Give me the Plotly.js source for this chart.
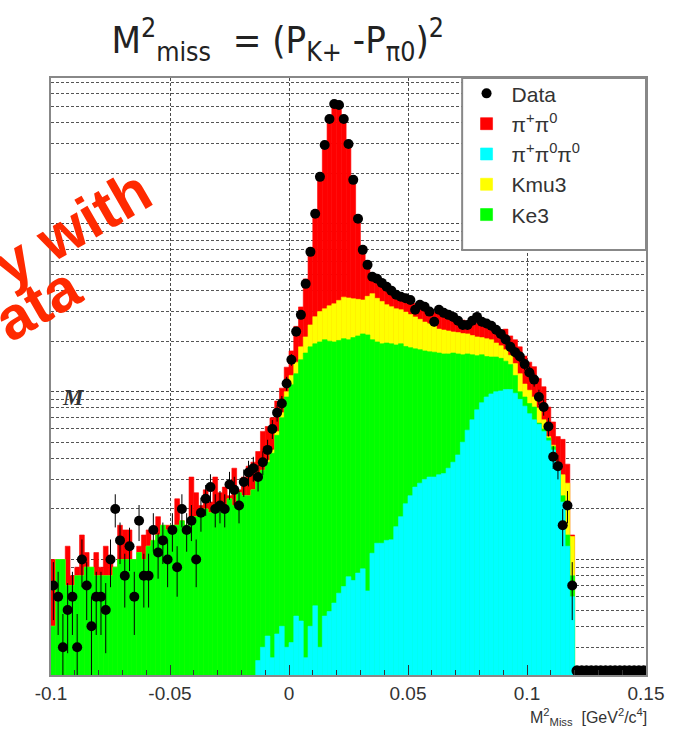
<!DOCTYPE html>
<html>
<head>
<meta charset="utf-8">
<script src="https://cdn.plot.ly/plotly-3.0.1.min.js"></script>
<style>
html,body{margin:0;padding:0;background:#ffffff;}
#chart{width:689px;height:729px;}
</style>
</head>
<body>
<div id="chart"></div>
<script>
// ---------- histogram binning ----------
const binLow = -0.1;
const binWidth = 0.002;

// ---------- data (counts per bin) ----------
const dataCounts = [
  7, 6, 3, 5, 6, 3, 10, 7, 4, 6,
  6, 5, 10, 20, 13, 8, 12, 6, 17, 8,
  8, 15, 11, 13, 10, 15, 9, 20, 15, 17,
  10, 19, 23, 27, 20, 21, 20, 28, 26, 21,
  29, 33, 35, 31, 38, 45, 60, 75, 85, 112,
  155, 228, 287, 439, 681, 1148, 1906, 2953, 4217, 5179,
  5108, 4217, 2990, 1829, 1072, 700, 570, 484, 471, 445,
  422, 400, 378, 368, 360, 352, 308, 330, 321, 300,
  261, 308, 295, 287, 279, 265, 250, 250, 265, 279,
  261, 255, 247, 234, 221, 205, 185, 172, 162, 146,
  130, 118, 93, 81, 62, 41, 36, 16, 21, 7,
  0, 0, 0, 0, 0, 0, 0, 0, 0, 0, 0, 0, 0, 0, 0
];

// ---------- MC stack levels (top of each stacked component) ----------
// pi+ pi0 (top of full stack)
const stackPiPi0 = [
  10, 9, 7, 12, 8, 9, 14, 11, 8, 11,
  9, 12, 10, 9, 16, 15, 15, 10, 12, 14,
  15, 12, 18, 14, 16, 13, 23, 17, 16, 31,
  25, 21, 26, 22, 31, 25, 27, 24, 35, 26,
  31, 36, 38, 44, 58, 62, 70, 88, 105, 140,
  175, 245, 320, 470, 720, 1180, 1950, 3000, 4300, 5200,
  5050, 4150, 2900, 1850, 1080, 690, 560, 475, 455, 432,
  412, 395, 380, 366, 356, 346, 336, 327, 318, 308,
  298, 292, 287, 282, 277, 272, 267, 263, 259, 256,
  252, 248, 244, 238, 233, 236, 215, 204, 185, 163,
  150, 141, 120, 107, 81, 66, 54, 52, 37, 14
];
// Kmu3 level
const stackKmu3 = [
  4, 10, 10, 7, 7, 8, 8, 9, 9, 8,
  8, 8, 8, 9, 10, 10, 10, 10, 11, 10,
  12, 13, 14, 16, 15, 16, 16, 17, 16, 17,
  18, 18, 20, 19, 21, 22, 21, 23, 21, 25,
  24, 24, 26, 30, 34, 39, 45, 58, 75, 100,
  125, 150, 185, 212, 250, 280, 300, 312, 325, 334,
  350, 366, 362, 358, 355, 352, 370, 384, 360, 345,
  330, 321, 312, 308, 298, 288, 279, 270, 260, 254,
  245, 236, 233, 230, 227, 225, 222, 221, 216, 212,
  210, 207, 204, 195, 188, 178, 165, 147, 128, 111,
  102, 93, 80, 68, 54, 48, 37, 32, 28.5, 13.7
];
// Ke3 level
const stackKe3 = [
  4, 10, 10, 7, 7, 8, 8, 9, 9, 8,
  8, 8, 8, 9, 10, 10, 10, 10, 11, 10,
  12, 13, 14, 16, 15, 16, 16, 17, 16, 17,
  18, 18, 20, 19, 21, 22, 21, 23, 21, 25,
  24, 24, 26, 30, 34, 38, 43, 55, 70, 93,
  110, 128, 155, 170, 185, 193, 198, 204, 200, 198,
  202, 207, 204, 210, 215, 221, 218, 204, 198, 193,
  195, 193, 190, 193, 186, 183, 180, 178, 175, 173,
  172, 170, 168, 168, 170, 168, 166, 168, 166, 164,
  166, 162, 161, 161, 158, 152, 145, 125, 100, 93,
  85, 81, 65, 60, 53, 47, 36, 24, 14, 8
];
// pi+ pi0 pi0 level (bottom component)
const stackPi3 = [
  0, 0, 0, 0, 0, 0, 0, 0, 0, 0,
  0, 0, 0, 0, 0, 0, 0, 0, 0, 0,
  0, 0, 0, 0, 0, 0, 0, 0, 0, 0,
  0, 0, 0, 0, 0, 0, 0, 0, 0, 0,
  0, 0, 0, 2.5, 3.0, 3.5, 2.6, 3.6, 4.0, 3.0,
  3.2, 4.6, 4.3, 2.6, 4.0, 5.3, 3.0, 4.6, 4.9, 5.5,
  6.3, 6.9, 7.9, 7.5, 8.3, 8.8, 6.5, 10.9, 12.5, 12.5,
  13.0, 13.1, 15.7, 18, 21.5, 24, 27, 28.5, 30, 31,
  31, 32, 32.5, 35, 38, 42, 50, 59, 68, 78,
  86, 93, 97, 100, 101, 103, 103, 98, 90, 82,
  74, 68, 64, 58, 51, 45, 34, 22, 12, 6
];

// ---------- axes ----------
const xTickVals = [-0.1, -0.05, 0, 0.05, 0.1, 0.15];
const xTickText = ['-0.1', '-0.05', '0', '0.05', '0.1', '0.15'];
const xRange = [-0.1, 0.15];
const yAxisMin = 2.05, yAxisMax = 7400;
const emptyBinLevel = 2.17;   // where empty data bins are drawn (on the floor)

// ---------- build ----------
const centers = n => Array.from({length: n}, (_, i) => +(binLow + binWidth * (i + 0.5)).toFixed(4));
const xMC = centers(stackPiPi0.length);
const xData = centers(dataCounts.length);
const filledX = [], filledY = [], emptyX = [], emptyY = [];
dataCounts.forEach((v, i) => {
  if (v > 0) { filledX.push(xData[i]); filledY.push(v); }
  else { emptyX.push(xData[i]); emptyY.push(emptyBinLevel); }
});

function histo(name, y, color, rank) {
  return {
    type: 'bar', name: name, x: xMC, y: y, width: binWidth,
    marker: {color: color, line: {color: color, width: 0.6}},
    legendrank: rank, hoverinfo: 'skip'
  };
}

const traces = [
  histo('π<sup>+</sup>π<sup>0</sup>', stackPiPi0, '#ff0000', 2),
  histo('Kmu3', stackKmu3, '#ffff00', 4),
  histo('Ke3', stackKe3, '#00ff00', 5),
  histo('π<sup>+</sup>π<sup>0</sup>π<sup>0</sup>', stackPi3, '#00ffff', 3),
  {
    type: 'scatter', mode: 'markers', name: 'Data', x: filledX, y: filledY,
    marker: {color: '#000', size: 10},
    error_y: {type: 'sqrt', color: '#000', thickness: 1, width: 0},
    legendrank: 1, hoverinfo: 'skip'
  },
  {
    type: 'scatter', mode: 'markers', name: 'Data (empty bins)', x: emptyX, y: emptyY,
    marker: {color: '#000', size: 11}, showlegend: false, hoverinfo: 'skip'
  }
];

const gridStyle = {gridcolor: '#4a4a4a', griddash: '3px,2px', gridwidth: 1};

const layout = {
  width: 689, height: 729,
  margin: {l: 51, r: 43, t: 78, b: 54},
  paper_bgcolor: '#ffffff', plot_bgcolor: '#ffffff',
  barmode: 'overlay', bargap: 0,
  font: {family: 'Liberation Sans, Arial, sans-serif', color: '#333'},
  showlegend: true,
  title: {
    text: 'M<sup>2</sup><sub>miss</sub>  = (P<sub>K+</sub> -P<sub>π0</sub>)<sup>2</sup>',
    x: 0.403, xanchor: 'center', y: 0.946, yanchor: 'middle',
    font: {size: 38, family: 'DejaVu Sans Condensed, DejaVu Sans, sans-serif', color: '#222'}
  },
  xaxis: Object.assign({
    range: xRange, tickvals: xTickVals, ticktext: xTickText,
    ticks: 'inside', ticklen: 10, tickcolor: '#333', tickwidth: 1,
    tickfont: {size: 19, color: '#333'},
    showgrid: true, showline: true, mirror: true, linecolor: '#888', linewidth: 2,
    zeroline: false,
    minor: {dtick: 0.01, ticks: 'inside', ticklen: 5, tickcolor: '#333', showgrid: false}
  }, gridStyle),
  yaxis: Object.assign({
    type: 'log', range: [Math.log10(yAxisMin), Math.log10(yAxisMax)], dtick: 1,
    showticklabels: false, ticks: '',
    showgrid: true, showline: true, mirror: true, linecolor: '#888', linewidth: 2,
    zeroline: false,
    minor: {dtick: 'D1', showgrid: true, gridcolor: '#555', griddash: '3px,2px', gridwidth: 1, ticks: ''}
  }, gridStyle),
  legend: {
    x: 0.69, y: 1.008, xanchor: 'left', yanchor: 'top',
    bgcolor: 'rgba(0,0,0,0)', borderwidth: 0,
    font: {size: 21, color: '#333'}, itemwidth: 40, traceorder: 'normal'
  },
  shapes: [{
    type: 'rect', xref: 'paper', yref: 'paper', x0: 0.691, x1: 1, y0: 0.712, y1: 1,
    fillcolor: '#ffffff', line: {color: '#888', width: 2}, layer: 'above'
  }],
  annotations: [
    {text: 'M<sup>2</sup><sub>Miss</sub>  [GeV<sup>2</sup>/c<sup>4</sup>]', xref: 'paper', yref: 'paper',
     x: 1.005, xanchor: 'right', y: -0.07, yanchor: 'middle', showarrow: false,
     font: {size: 16, color: '#333'}},
    {text: 'y with', xref: 'paper', yref: 'paper', x: 0.036, y: 0.75, xanchor: 'center', yanchor: 'middle',
     textangle: -30, showarrow: false,
     font: {size: 60, color: '#ff2a00', family: 'Liberation Sans, Arial, sans-serif', weight: 'bold'}},
    {text: 'ata', xref: 'paper', yref: 'paper', x: -0.022, y: 0.622, xanchor: 'center', yanchor: 'middle',
     textangle: -30, showarrow: false,
     font: {size: 60, color: '#ff2a00', family: 'Liberation Sans, Arial, sans-serif', weight: 'bold'}},
    {text: 'M', xref: 'paper', yref: 'paper', x: 0.037, y: 0.465, xanchor: 'center', yanchor: 'middle',
     showarrow: false,
     font: {size: 23, color: '#333', family: 'Liberation Serif, serif', style: 'italic', weight: 'bold'}}
  ]
};

Plotly.newPlot('chart', traces, layout, {displayModeBar: false, staticPlot: true});
</script>
</body>
</html>
